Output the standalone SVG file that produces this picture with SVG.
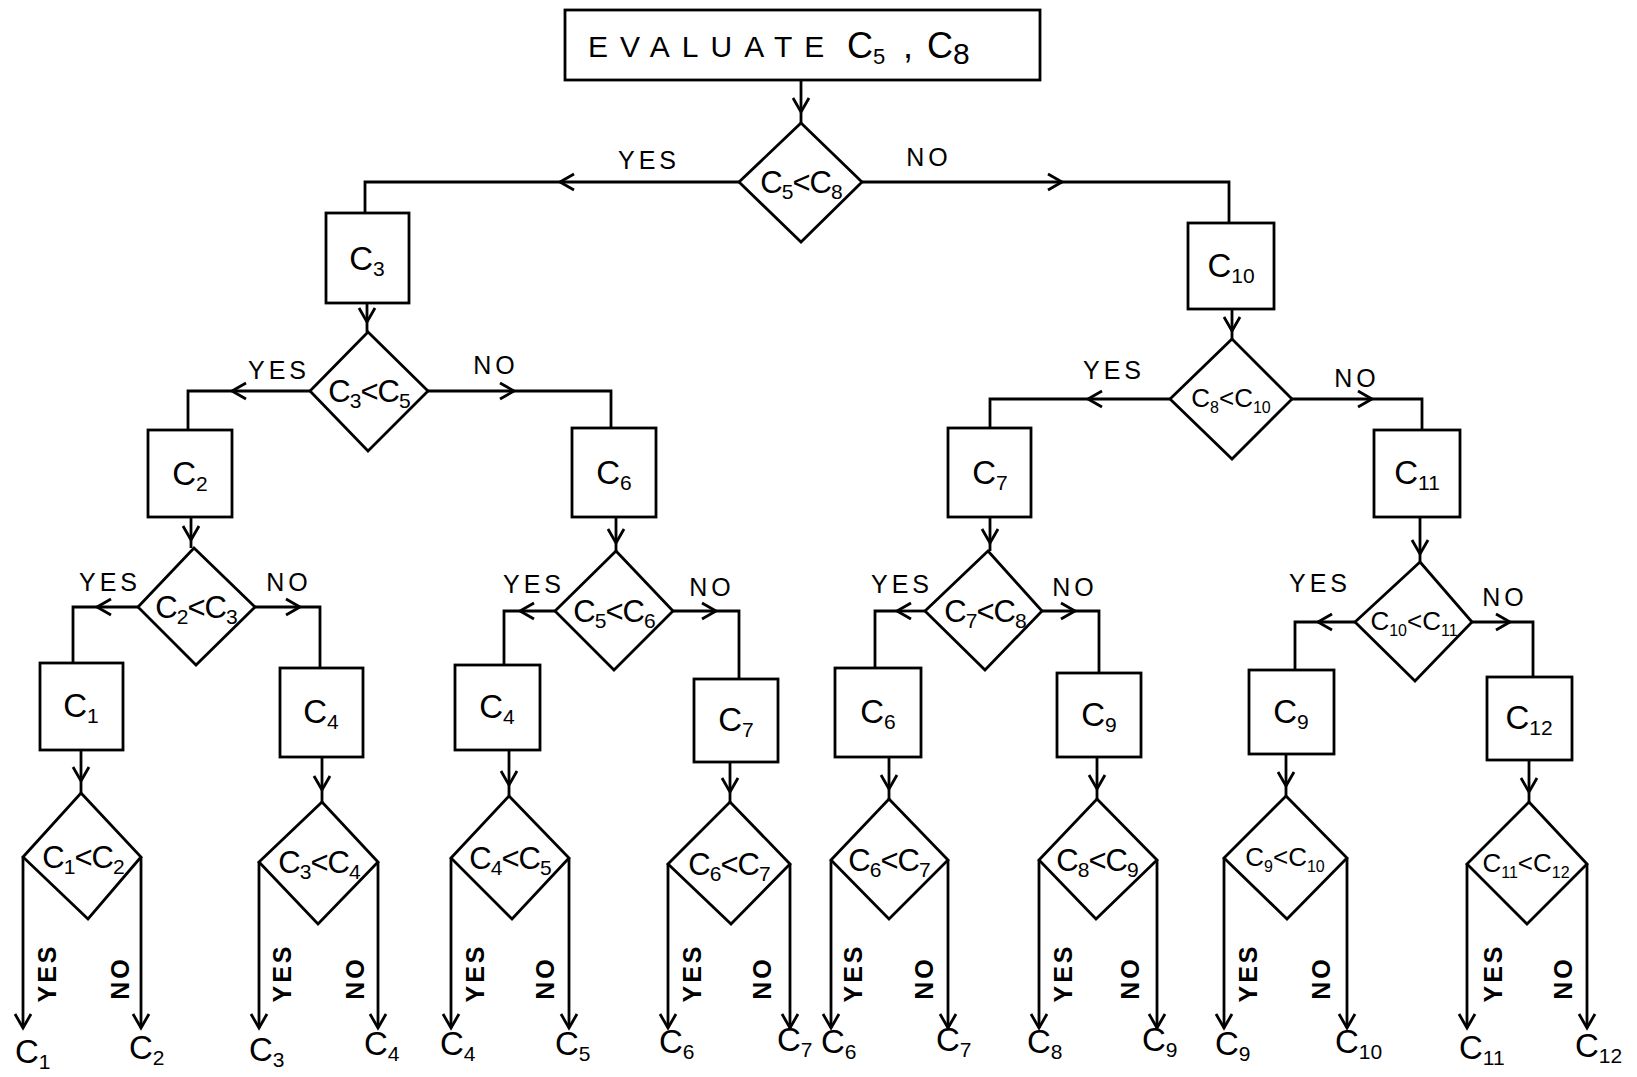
<svg xmlns="http://www.w3.org/2000/svg" width="1637" height="1077" viewBox="0 0 1637 1077">
<style>
.n{fill:#fff;stroke:#000;stroke-width:2.8}
.c{fill:none;stroke:#000;stroke-width:2.8}
.a{fill:none;stroke:#000;stroke-width:2.8;marker-end:url(#ah)}
text{font-family:"Liberation Sans",Arial,sans-serif;fill:#000}
.bt{font-size:33px;text-anchor:middle}
.dt{font-size:31px;text-anchor:middle;letter-spacing:-1px}
.dw{font-size:26px;text-anchor:middle}
.yn{font-size:25px;text-anchor:middle;letter-spacing:4px}
.yr{font-size:25px;text-anchor:middle;letter-spacing:3px;font-weight:bold}
.ol{font-size:33px}
.s{font-size:21px}
.ss{font-size:16px}
</style>
<defs>
<marker id="ah" markerUnits="userSpaceOnUse" markerWidth="24" markerHeight="24" viewBox="-18 -12 24 24" refX="0" refY="0" orient="auto">
<path d="M-14,-8 L0,0 L-14,8" fill="none" stroke="#000" stroke-width="2.8"/>
</marker>
</defs>
<rect width="1637" height="1077" fill="#fff"/>

<g id="connectors">
<path class="a" d="M801,80 L801,112"/><path class="c" d="M801,112 L801,123"/>
<path class="a" d="M739,182 L560,182"/><path class="c" d="M560,182 L365,182 L365,213"/>
<path class="a" d="M862,182 L1062,182"/><path class="c" d="M1062,182 L1229,182 L1229,223"/>

<path class="a" d="M367,303 L367,322"/><path class="c" d="M367,322 L367,332"/>
<path class="a" d="M310,391 L232,391"/><path class="c" d="M232,391 L188,391 L188,430"/>
<path class="a" d="M428,391 L514,391"/><path class="c" d="M514,391 L611,391 L611,428"/>

<path class="a" d="M191,517 L191,540"/><path class="c" d="M191,540 L191,548"/>
<path class="a" d="M138,607 L97,607"/><path class="c" d="M97,607 L73,607 L73,663"/>
<path class="a" d="M255,607 L300,607"/><path class="c" d="M300,607 L320,607 L320,668"/>

<path class="a" d="M616,517 L616,543"/><path class="c" d="M616,543 L616,551"/>
<path class="a" d="M555,611 L520,611"/><path class="c" d="M520,611 L504,611 L504,665"/>
<path class="a" d="M673,611 L716,611"/><path class="c" d="M716,611 L739,611 L739,679"/>

<path class="a" d="M1232,309 L1232,331"/><path class="c" d="M1232,331 L1232,339"/>
<path class="a" d="M1170,399 L1088,399"/><path class="c" d="M1088,399 L990,399 L990,428"/>
<path class="a" d="M1292,399 L1372,399"/><path class="c" d="M1372,399 L1422,399 L1422,430"/>

<path class="a" d="M990,517 L990,543"/><path class="c" d="M990,543 L990,551"/>
<path class="a" d="M925,611 L897,611"/><path class="c" d="M897,611 L875,611 L875,668"/>
<path class="a" d="M1042,611 L1075,611"/><path class="c" d="M1075,611 L1099,611 L1099,673"/>

<path class="a" d="M1420,517 L1420,554"/><path class="c" d="M1420,554 L1420,562"/>
<path class="a" d="M1355,622 L1318,622"/><path class="c" d="M1318,622 L1295,622 L1295,670"/>
<path class="a" d="M1472,622 L1510,622"/><path class="c" d="M1510,622 L1533,622 L1533,677"/>

<path class="a" d="M81,750 L81,781"/><path class="c" d="M81,781 L81,793"/>
<path class="a" d="M322,757 L322,790"/><path class="c" d="M322,790 L322,802"/>
<path class="a" d="M509,750 L509,785"/><path class="c" d="M509,785 L509,796"/>
<path class="a" d="M730,762 L730,792"/><path class="c" d="M730,792 L730,802"/>
<path class="a" d="M889,757 L889,789"/><path class="c" d="M889,789 L889,799"/>
<path class="a" d="M1097,757 L1097,789"/><path class="c" d="M1097,789 L1097,799"/>
<path class="a" d="M1286,754 L1286,786"/><path class="c" d="M1286,786 L1286,796"/>
<path class="a" d="M1529,760 L1529,792"/><path class="c" d="M1529,792 L1529,802"/>

<path class="a" d="M23,857 L23,1028"/><path class="a" d="M141,857 L141,1028"/>
<path class="a" d="M259,862 L259,1028"/><path class="a" d="M378,862 L378,1028"/>
<path class="a" d="M451,858 L451,1028"/><path class="a" d="M569,858 L569,1028"/>
<path class="a" d="M668,864 L668,1028"/><path class="a" d="M790,864 L790,1028"/>
<path class="a" d="M831,860 L831,1028"/><path class="a" d="M948,860 L948,1028"/>
<path class="a" d="M1039,860 L1039,1028"/><path class="a" d="M1157,860 L1157,1028"/>
<path class="a" d="M1224,858 L1224,1028"/><path class="a" d="M1347,858 L1347,1028"/>
<path class="a" d="M1467,864 L1467,1028"/><path class="a" d="M1587,864 L1587,1028"/>

<text class="yn" x="649" y="169">YES</text><text class="yn" x="929" y="166">NO</text>
<text class="yn" x="279" y="379">YES</text><text class="yn" x="496" y="374">NO</text>
<text class="yn" x="110" y="591">YES</text><text class="yn" x="289" y="591">NO</text>
<text class="yn" x="534" y="593">YES</text><text class="yn" x="712" y="596">NO</text>
<text class="yn" x="1114" y="379">YES</text><text class="yn" x="1357" y="387">NO</text>
<text class="yn" x="902" y="593">YES</text><text class="yn" x="1075" y="596">NO</text>
<text class="yn" x="1320" y="592">YES</text><text class="yn" x="1505" y="606">NO</text>

<text class="yr" x="56" y="973" transform="rotate(-90 56 973)">YES</text><text class="yr" x="129" y="978" transform="rotate(-90 129 978)">NO</text>
<text class="yr" x="291" y="973" transform="rotate(-90 291 973)">YES</text><text class="yr" x="364" y="978" transform="rotate(-90 364 978)">NO</text>
<text class="yr" x="484" y="973" transform="rotate(-90 484 973)">YES</text><text class="yr" x="554" y="978" transform="rotate(-90 554 978)">NO</text>
<text class="yr" x="701" y="973" transform="rotate(-90 701 973)">YES</text><text class="yr" x="771" y="978" transform="rotate(-90 771 978)">NO</text>
<text class="yr" x="862" y="973" transform="rotate(-90 862 973)">YES</text><text class="yr" x="933" y="978" transform="rotate(-90 933 978)">NO</text>
<text class="yr" x="1072" y="973" transform="rotate(-90 1072 973)">YES</text><text class="yr" x="1139" y="978" transform="rotate(-90 1139 978)">NO</text>
<text class="yr" x="1257" y="973" transform="rotate(-90 1257 973)">YES</text><text class="yr" x="1330" y="978" transform="rotate(-90 1330 978)">NO</text>
<text class="yr" x="1502" y="973" transform="rotate(-90 1502 973)">YES</text><text class="yr" x="1572" y="978" transform="rotate(-90 1572 978)">NO</text>
</g>

<g id="start"><rect class="n" x="565" y="10" width="475" height="70"/>
<text font-size="30" x="588" y="57" letter-spacing="12">EVALUATE</text>
<text font-size="36" x="847" y="58">C<tspan font-size="22" dy="6">5</tspan><tspan dy="-6" x="903">,</tspan><tspan x="927">C</tspan><tspan font-size="30" dy="6">8</tspan></text></g>

<g id="d_c5c8"><polygon class="n" points="801,123 862,182 801,242 739,182"/><text class="dt" x="801" y="193">C<tspan class="s" dy="6">5</tspan><tspan dy="-6">&lt;C</tspan><tspan class="s" dy="6">8</tspan></text></g>
<g id="b_c3"><rect class="n" x="326" y="213" width="83" height="90"/><text class="bt" x="367" y="270">C<tspan class="s" dy="6">3</tspan></text></g>
<g id="b_c10"><rect class="n" x="1188" y="223" width="86" height="86"/><text class="bt" x="1231" y="277">C<tspan class="s" dy="6">10</tspan></text></g>

<g id="d_c3c5"><polygon class="n" points="368,332 428,391 368,451 310,391"/><text class="dt" x="369" y="402">C<tspan class="s" dy="6">3</tspan><tspan dy="-6">&lt;C</tspan><tspan class="s" dy="6">5</tspan></text></g>
<g id="b_c2"><rect class="n" x="148" y="430" width="84" height="87"/><text class="bt" x="190" y="485">C<tspan class="s" dy="6">2</tspan></text></g>
<g id="b_c6"><rect class="n" x="572" y="428" width="84" height="89"/><text class="bt" x="614" y="484">C<tspan class="s" dy="6">6</tspan></text></g>

<g id="d_c8c10"><polygon class="n" points="1232,339 1292,399 1232,459 1170,399"/><text class="dw" x="1231" y="407">C<tspan class="ss" dy="6">8</tspan><tspan dy="-6">&lt;C</tspan><tspan class="ss" dy="6">10</tspan></text></g>
<g id="b_c7"><rect class="n" x="948" y="428" width="83" height="89"/><text class="bt" x="990" y="484">C<tspan class="s" dy="6">7</tspan></text></g>
<g id="b_c11"><rect class="n" x="1374" y="430" width="86" height="87"/><text class="bt" x="1417" y="484">C<tspan class="s" dy="6">11</tspan></text></g>

<g id="d_c2c3"><polygon class="n" points="194,548 255,607 196,665 138,607"/><text class="dt" x="196" y="618">C<tspan class="s" dy="6">2</tspan><tspan dy="-6">&lt;C</tspan><tspan class="s" dy="6">3</tspan></text></g>
<g id="d_c5c6"><polygon class="n" points="616,551 673,611 614,670 555,611"/><text class="dt" x="614" y="622">C<tspan class="s" dy="6">5</tspan><tspan dy="-6">&lt;C</tspan><tspan class="s" dy="6">6</tspan></text></g>
<g id="d_c7c8"><polygon class="n" points="988,551 1042,611 985,670 925,611"/><text class="dt" x="985" y="622">C<tspan class="s" dy="6">7</tspan><tspan dy="-6">&lt;C</tspan><tspan class="s" dy="6">8</tspan></text></g>
<g id="d_c10c11"><polygon class="n" points="1420,562 1472,622 1415,681 1355,622"/><text class="dw" x="1414" y="630">C<tspan class="ss" dy="6">10</tspan><tspan dy="-6">&lt;C</tspan><tspan class="ss" dy="6">11</tspan></text></g>

<g id="b_c1"><rect class="n" x="40" y="663" width="83" height="87"/><text class="bt" x="81" y="717">C<tspan class="s" dy="6">1</tspan></text></g>
<g id="b_c4a"><rect class="n" x="280" y="668" width="83" height="89"/><text class="bt" x="321" y="723">C<tspan class="s" dy="6">4</tspan></text></g>
<g id="b_c4b"><rect class="n" x="455" y="665" width="85" height="85"/><text class="bt" x="497" y="718">C<tspan class="s" dy="6">4</tspan></text></g>
<g id="b_c7b"><rect class="n" x="694" y="679" width="84" height="83"/><text class="bt" x="736" y="731">C<tspan class="s" dy="6">7</tspan></text></g>
<g id="b_c6b"><rect class="n" x="835" y="668" width="86" height="89"/><text class="bt" x="878" y="723">C<tspan class="s" dy="6">6</tspan></text></g>
<g id="b_c9a"><rect class="n" x="1057" y="673" width="84" height="84"/><text class="bt" x="1099" y="726">C<tspan class="s" dy="6">9</tspan></text></g>
<g id="b_c9b"><rect class="n" x="1249" y="670" width="85" height="84"/><text class="bt" x="1291" y="723">C<tspan class="s" dy="6">9</tspan></text></g>
<g id="b_c12"><rect class="n" x="1487" y="677" width="85" height="83"/><text class="bt" x="1529" y="729">C<tspan class="s" dy="6">12</tspan></text></g>

<g id="d_c1c2"><polygon class="n" points="81,793 141,857 88,919 23,857"/><text class="dt" x="83" y="868">C<tspan class="s" dy="6">1</tspan><tspan dy="-6">&lt;C</tspan><tspan class="s" dy="6">2</tspan></text></g>
<g id="d_c3c4"><polygon class="n" points="322,802 378,862 318,924 259,862"/><text class="dt" x="319" y="873">C<tspan class="s" dy="6">3</tspan><tspan dy="-6">&lt;C</tspan><tspan class="s" dy="6">4</tspan></text></g>
<g id="d_c4c5"><polygon class="n" points="509,796 569,858 512,919 451,858"/><text class="dt" x="510" y="869">C<tspan class="s" dy="6">4</tspan><tspan dy="-6">&lt;C</tspan><tspan class="s" dy="6">5</tspan></text></g>
<g id="d_c6c7a"><polygon class="n" points="730,802 790,864 731,924 668,864"/><text class="dt" x="729" y="875">C<tspan class="s" dy="6">6</tspan><tspan dy="-6">&lt;C</tspan><tspan class="s" dy="6">7</tspan></text></g>
<g id="d_c6c7b"><polygon class="n" points="889,799 948,860 889,919 831,860"/><text class="dt" x="889" y="871">C<tspan class="s" dy="6">6</tspan><tspan dy="-6">&lt;C</tspan><tspan class="s" dy="6">7</tspan></text></g>
<g id="d_c8c9"><polygon class="n" points="1097,799 1157,860 1096,919 1039,860"/><text class="dt" x="1097" y="871">C<tspan class="s" dy="6">8</tspan><tspan dy="-6">&lt;C</tspan><tspan class="s" dy="6">9</tspan></text></g>
<g id="d_c9c10"><polygon class="n" points="1286,796 1347,858 1287,919 1224,858"/><text class="dw" x="1285" y="866">C<tspan class="ss" dy="6">9</tspan><tspan dy="-6">&lt;C</tspan><tspan class="ss" dy="6">10</tspan></text></g>
<g id="d_c11c12"><polygon class="n" points="1529,802 1587,864 1527,924 1467,864"/><text class="dw" x="1526" y="872">C<tspan class="ss" dy="6">11</tspan><tspan dy="-6">&lt;C</tspan><tspan class="ss" dy="6">12</tspan></text></g>

<g id="outputs">
<text class="ol" x="15" y="1063">C<tspan class="s" dy="6">1</tspan></text>
<text class="ol" x="129" y="1059">C<tspan class="s" dy="6">2</tspan></text>
<text class="ol" x="249" y="1061">C<tspan class="s" dy="6">3</tspan></text>
<text class="ol" x="364" y="1055">C<tspan class="s" dy="6">4</tspan></text>
<text class="ol" x="440" y="1055">C<tspan class="s" dy="6">4</tspan></text>
<text class="ol" x="555" y="1055">C<tspan class="s" dy="6">5</tspan></text>
<text class="ol" x="659" y="1053">C<tspan class="s" dy="6">6</tspan></text>
<text class="ol" x="777" y="1051">C<tspan class="s" dy="6">7</tspan></text>
<text class="ol" x="821" y="1053">C<tspan class="s" dy="6">6</tspan></text>
<text class="ol" x="936" y="1051">C<tspan class="s" dy="6">7</tspan></text>
<text class="ol" x="1027" y="1053">C<tspan class="s" dy="6">8</tspan></text>
<text class="ol" x="1142" y="1051">C<tspan class="s" dy="6">9</tspan></text>
<text class="ol" x="1215" y="1055">C<tspan class="s" dy="6">9</tspan></text>
<text class="ol" x="1335" y="1053">C<tspan class="s" dy="6">10</tspan></text>
<text class="ol" x="1459" y="1059">C<tspan class="s" dy="6">11</tspan></text>
<text class="ol" x="1575" y="1057">C<tspan class="s" dy="6">12</tspan></text>
</g>
</svg>
